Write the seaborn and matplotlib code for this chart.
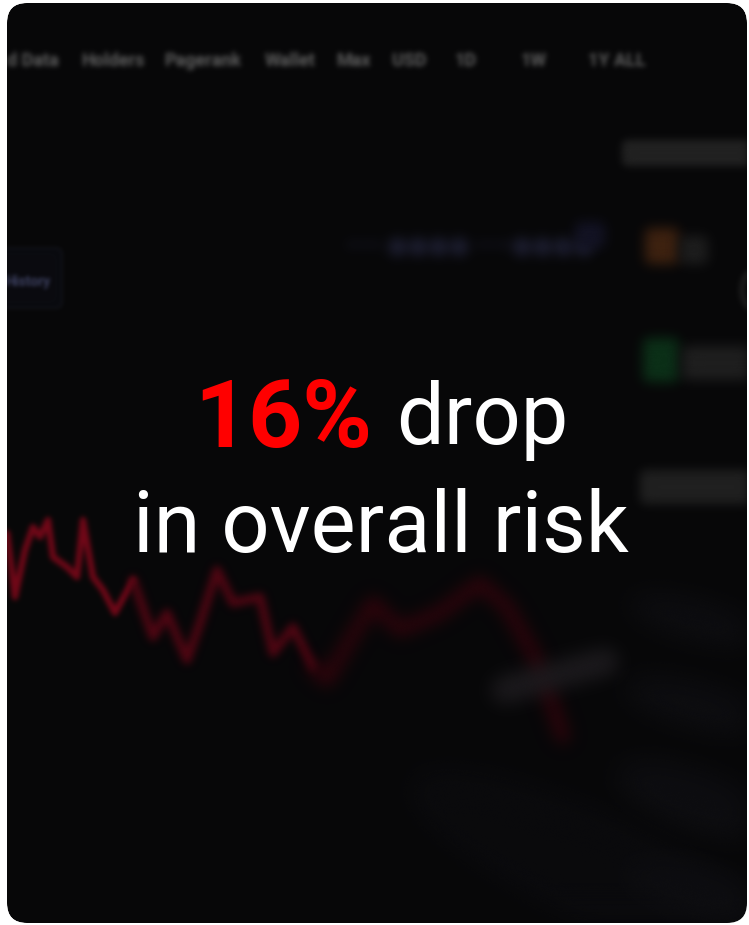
import numpy as np
import pandas as pd
import matplotlib
matplotlib.use("Agg")
import matplotlib.pyplot as plt
from matplotlib.patches import FancyBboxPatch, Ellipse, PathPatch
from matplotlib.path import Path
import seaborn as sns

# ---------------- data ----------------
# blurred background price line (red), x / y in pixel-like units
line_x = [7, 15, 25, 33, 40, 48, 53, 67, 77, 83, 93, 103, 115, 133, 153, 167, 187, 200,
          217, 233, 260, 273, 293, 313, 327, 350, 373, 400, 440, 480, 507, 533, 553, 563]
line_y = [533, 597, 550, 527, 537, 520, 557, 567, 577, 520, 577, 590, 613, 580, 637, 613,
          660, 623, 570, 603, 597, 653, 627, 667, 680, 640, 603, 630, 613, 583, 607, 653, 707, 737]
# blurred grey bar near the end of the line
bar_x = [505, 540, 575, 605]
bar_y = [690, 680, 670, 662]

nav_labels = ["d Data", "Holders", "Pagerank", "Wallet", "Max", "USD", "1D", "1W", "1Y ALL"]
nav_x = [7, 82, 165, 265, 337, 392, 454, 521, 588]

headline_value = "16%"
headline_rest = "drop"
headline_line2 = "in overall risk"


# ---------------- blur filter ----------------
def gauss_blur(arr, sigma):
    r = int(np.ceil(3 * sigma))
    xs = np.arange(-r, r + 1)
    k = np.exp(-xs ** 2 / (2 * sigma ** 2))
    k /= k.sum()
    h, w = arr.shape[:2]
    p = np.pad(arr, ((r, r), (0, 0), (0, 0)))
    out = np.zeros_like(arr)
    for i, wt in enumerate(k):
        out += wt * p[i:i + h]
    p = np.pad(out, ((0, 0), (r, r), (0, 0)))
    out2 = np.zeros_like(arr)
    for i, wt in enumerate(k):
        out2 += wt * p[:, i:i + w]
    return out2


class Blur:
    def __init__(self, sigma):
        self.sigma = sigma

    def __call__(self, im, dpi):
        pad = int(np.ceil(3 * self.sigma)) + 2
        im = np.pad(im, ((pad, pad), (pad, pad), (0, 0)))
        a = im[..., 3:4]
        pm = np.concatenate([im[..., :3] * a, a], axis=2)
        b = gauss_blur(pm, self.sigma)
        ab = b[..., 3:4]
        rgb = b[..., :3] / np.maximum(ab, 1e-6)
        out = np.concatenate([np.clip(rgb, 0, 1), np.clip(ab, 0, 1)], axis=2)
        return out, -pad, -pad


# ---------------- figure ----------------
sns.set_theme(style="white")
plt.rcParams["font.family"] = ["Roboto", "DejaVu Sans"]

W, H = 749, 925
fig = plt.figure(figsize=(W / 100, H / 100), dpi=100, facecolor="white")
ax = fig.add_axes([0, 0, 1, 1])
ax.set_xlim(0, W)
ax.set_ylim(H, 0)
ax.axis("off")

card = FancyBboxPatch((7, 3), 740, 920, boxstyle="round,pad=0,rounding_size=20",
                      facecolor="#070708", edgecolor="none", zorder=0)
ax.add_patch(card)

# faint lighter diagonal haze bottom-right
for (cx, cy, w, h, ang, col) in [
    (600, 870, 420, 110, 25, "#0b0b0e"),
    (695, 800, 170, 60, 20, "#0e0e11"),
    (695, 705, 150, 45, 15, "#0e0e11"),
    (695, 620, 140, 40, 15, "#0e0e11"),
    (695, 890, 150, 50, 15, "#0e0e11"),
]:
    e = Ellipse((cx, cy), w, h, angle=ang, facecolor=col, edgecolor="none", zorder=1)
    e.set_agg_filter(Blur(14))
    ax.add_patch(e)

# top navigation (blurred)
for lab, x in zip(nav_labels, nav_x):
    t = ax.text(x, 61, lab, color="#606060", fontsize=13, fontweight="bold",
                ha="left", va="center", zorder=2)
    t.set_agg_filter(Blur(2.6))

# "History" box on the left
hb = FancyBboxPatch((-10, 248), 72, 60, boxstyle="round,pad=0,rounding_size=6",
                    facecolor="#0a0b10", edgecolor="#121319", lw=1.5, zorder=2)
hb.set_agg_filter(Blur(2))
ax.add_patch(hb)
t = ax.text(5, 282, "History", color="#3e4262", fontsize=10, fontweight="bold",
            ha="left", va="center", zorder=3)
t.set_agg_filter(Blur(2.0))

# blurred bluish text in the middle
t = ax.text(345, 246, "—— ●●●● ——●●●●", color="#1f2034", fontsize=17,
            fontweight="bold", ha="left", va="center", zorder=2)
t.set_agg_filter(Blur(6))

# right column (blurred)
for (x0, y0, w, h, col, s) in [
    (622, 140, 140, 26, "#222222", 4),
    (645, 228, 34, 36, "#3e2210", 6),
    (680, 236, 28, 28, "#1e1e1e", 6),
    (643, 338, 36, 44, "#0c3018", 6),
    (682, 346, 80, 34, "#1f1f1f", 6),
    (640, 470, 120, 34, "#202020", 5),
    (575, 222, 30, 26, "#131324", 6),
]:
    r = FancyBboxPatch((x0, y0), w, h, boxstyle="round,pad=0,rounding_size=6",
                       facecolor=col, edgecolor="none", zorder=2)
    r.set_agg_filter(Blur(s))
    ax.add_patch(r)
ring = Ellipse((765, 290), 46, 50, facecolor="none", edgecolor="#262626", lw=3, zorder=2)
ring.set_agg_filter(Blur(3))
ax.add_patch(ring)

# red blurred price line, increasingly blurred to the right
df = pd.DataFrame({"x": line_x, "y": line_y})
segments = [(0, 14, 2.5, "#720818", 4.5),
            (13, 24, 4.0, "#520613", 6.0),
            (23, len(line_x), 8.0, "#33040c", 9.0)]
for i0, i1, sig, col, lw in segments:
    sub = df.iloc[i0:i1]
    n_before = len(ax.lines)
    sns.lineplot(data=sub, x="x", y="y", sort=False, estimator=None, color=col,
                 linewidth=lw, ax=ax, zorder=3)
    for ln in ax.lines[n_before:]:
        ln.set_agg_filter(Blur(sig))
        ln.set_solid_joinstyle("round")
        ln.set_solid_capstyle("round")

bdf = pd.DataFrame({"x": bar_x, "y": bar_y})
n_before = len(ax.lines)
sns.lineplot(data=bdf, x="x", y="y", sort=False, estimator=None, color="#1c1a1d",
             linewidth=20, ax=ax, zorder=3)
for ln in ax.lines[n_before:]:
    ln.set_agg_filter(Blur(9))
    ln.set_solid_capstyle("round")

# white mask outside the rounded card
cp = card.get_path()
verts = cp.vertices
area = 0.5 * np.sum(verts[:-1, 0] * verts[1:, 1] - verts[1:, 0] * verts[:-1, 1])
outer = np.array([[-50, -50], [W + 50, -50], [W + 50, H + 50], [-50, H + 50], [-50, -50]])
o_area = 0.5 * np.sum(outer[:-1, 0] * outer[1:, 1] - outer[1:, 0] * outer[:-1, 1])
if np.sign(o_area) == np.sign(area):
    outer = outer[::-1]
outer_path = Path(outer, [Path.MOVETO, Path.LINETO, Path.LINETO, Path.LINETO, Path.CLOSEPOLY])
mask = Path.make_compound_path(outer_path, cp)
ax.add_patch(PathPatch(mask, facecolor="white", edgecolor="none", zorder=8))

# headline
ax.text(194, 447, headline_value, color="#ff0000", fontsize=68, fontweight="bold",
        ha="left", va="baseline", zorder=10)
ax.text(396, 444, headline_rest, color="white", fontsize=61,
        ha="left", va="baseline", zorder=10)
ax.text(381, 552, headline_line2, color="white", fontsize=61,
        ha="center", va="baseline", zorder=10)

fig.savefig("out.png", dpi=100, facecolor="white")
